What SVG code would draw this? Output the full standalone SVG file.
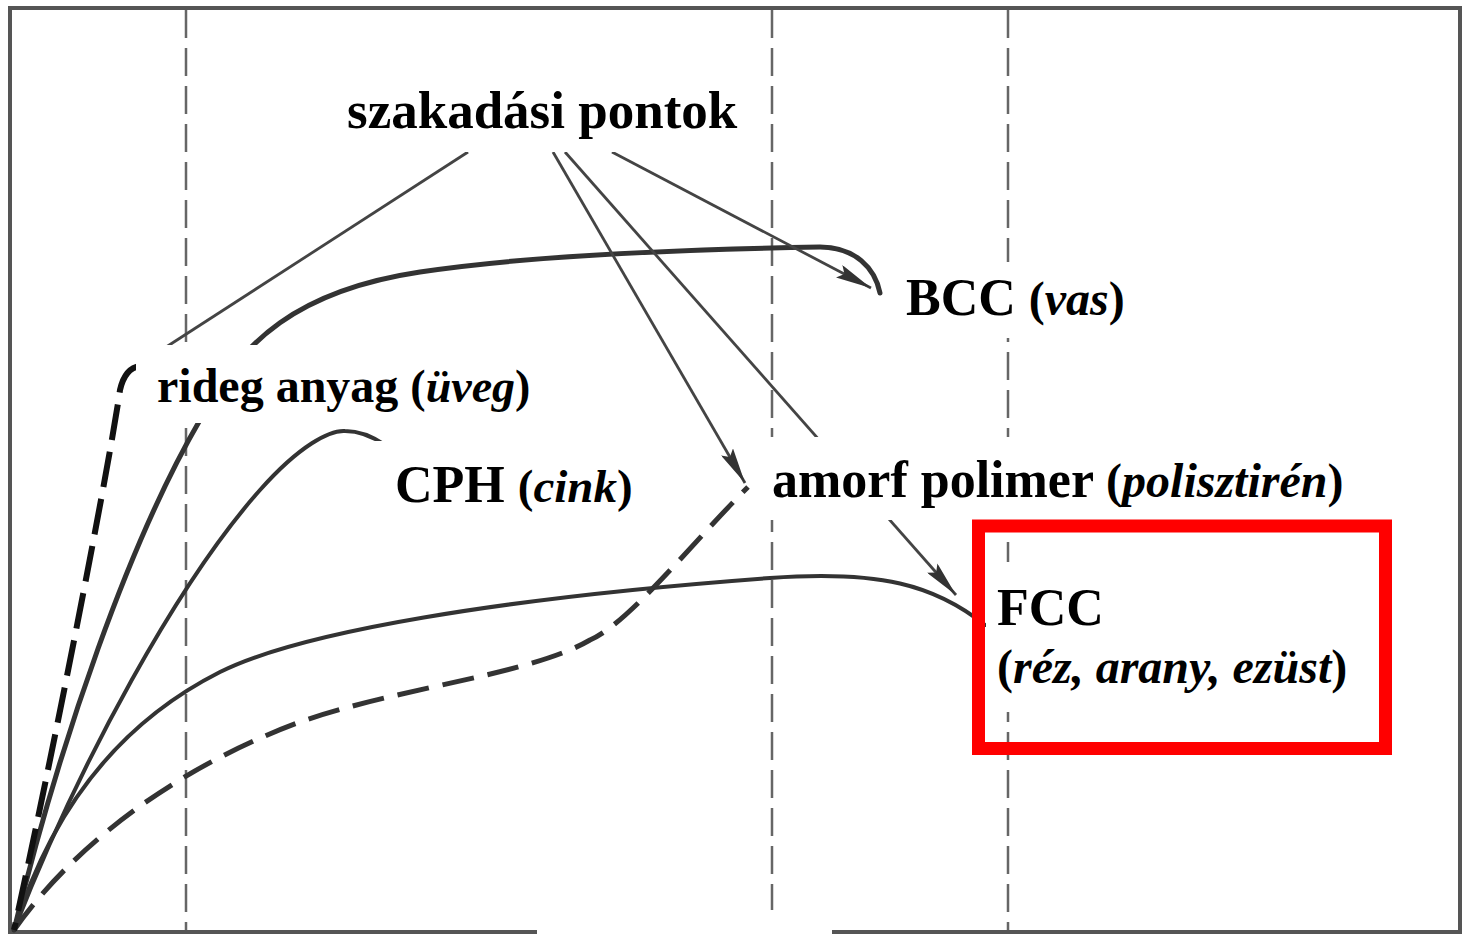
<svg xmlns="http://www.w3.org/2000/svg" width="1470" height="937" viewBox="0 0 1470 937">
<style>
.frame{fill:none;stroke:#555;stroke-width:4}
.grid{fill:none;stroke:#666;stroke-width:2.5;stroke-dasharray:28 10}
.curve{fill:none;stroke:#333;stroke-width:4;stroke-linecap:round}
.dash{fill:none;stroke:#333;stroke-width:5;stroke-dasharray:32 14}
.brittle{fill:none;stroke:#111;stroke-width:6;stroke-dasharray:36 12}
.arrow{fill:none;stroke:#444;stroke-width:2.8}
.bg{fill:#fff}
.lbl{font-family:"Liberation Serif","Times New Roman",serif;font-weight:bold;fill:#000}
.it{font-style:italic}
</style>
<defs>
<marker id="ah" viewBox="0 0 36 14" refX="36" refY="7" markerWidth="36" markerHeight="14" markerUnits="userSpaceOnUse" orient="auto">
<path d="M0,0 L36,7 L0,14 L6,7 z" fill="#333"/>
</marker>
</defs>
<rect width="1470" height="937" fill="#fff"/>
<g id="frame">
<rect class="frame" x="10" y="8" width="1450" height="924"/>
<line class="grid" x1="186" y1="10" x2="186" y2="930"/>
<line class="grid" x1="772" y1="10" x2="772" y2="930"/>
<line class="grid" x1="1008" y1="10" x2="1008" y2="930"/>
<rect class="bg" x="537" y="910" width="295" height="27"/>
</g>
<g id="curves">
<path id="bcc-curve" class="curve" style="stroke-width:5" d="M14,930 C60,740 130,540 200,420 C240,340 300,290 420,272 C540,254 700,249 820,247 C855,247 875,268 880,293"/>
<path id="cph-curve" class="curve" d="M14,930 C80,760 180,580 260,490 C300,445 330,430 345,431 C360,431 372,436 385,445"/>
<path id="fcc-curve" class="curve" d="M14,930 C45,830 105,730 220,672 C300,632 500,598 770,578 C880,570 935,585 985,625"/>
<path id="amorf-curve" class="dash" d="M14,930 C70,850 170,770 300,722 C400,687 530,675 590,640 C630,622 690,545 748,487"/>
<path id="brittle-curve" class="brittle" d="M140,366 Q125,368 120,390 C110,460 60,720 14,930"/>
</g>
<g id="connectors">
<line class="arrow" x1="468" y1="152" x2="160" y2="351"/>
<line class="arrow" x1="553" y1="152" x2="745" y2="483" marker-end="url(#ah)"/>
<line class="arrow" x1="565" y1="152" x2="956" y2="595" marker-end="url(#ah)"/>
<line class="arrow" x1="612" y1="152" x2="871" y2="288" marker-end="url(#ah)"/>
</g>
<g id="label-szakadasi">
<rect class="bg" x="335" y="70" width="428" height="82"/>
<text class="lbl" x="347" y="128" font-size="53">szakadási pontok</text>
</g>
<g id="label-bcc">
<rect class="bg" x="888" y="262" width="250" height="76"/>
<text class="lbl" x="906" y="315" font-size="52">BCC <tspan font-size="48">(<tspan class="it">vas</tspan>)</tspan></text>
</g>
<g id="label-rideg">
<rect class="bg" x="136" y="345" width="488" height="78"/>
<text class="lbl" x="157" y="402" font-size="48">rideg anyag <tspan font-size="46">(<tspan class="it">üveg</tspan>)</tspan></text>
</g>
<g id="label-cph">
<rect class="bg" x="373" y="441" width="300" height="90"/>
<text class="lbl" x="395" y="502" font-size="52">CPH <tspan font-size="47">(<tspan class="it">cink</tspan>)</tspan></text>
</g>
<g id="label-amorf">
<rect class="bg" x="755" y="437" width="610" height="83"/>
<text class="lbl" x="772" y="497" font-size="52">amorf polimer <tspan font-size="48">(<tspan class="it">polisztirén</tspan>)</tspan></text>
</g>
<g id="label-fcc">
<rect class="bg" x="986" y="562" width="390" height="150"/>
<text class="lbl" x="997" y="625" font-size="52">FCC</text>
<text class="lbl" x="997" y="683" font-size="48">(<tspan class="it">réz, arany, ezüst</tspan>)</text>
<rect x="978.5" y="526" width="407" height="222.5" fill="none" stroke="#ff0000" stroke-width="13"/>
</g>
</svg>
